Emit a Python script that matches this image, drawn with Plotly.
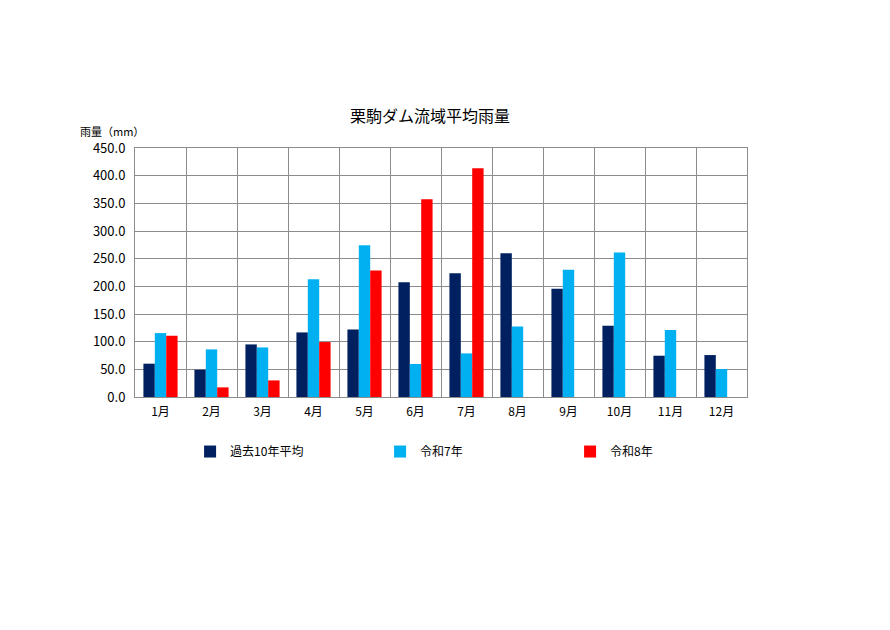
import plotly.graph_objects as go

months = ['1月', '2月', '3月', '4月', '5月', '6月', '7月', '8月', '9月', '10月', '11月', '12月']
avg10 = [60.2, 49.3, 95.0, 116.7, 122.0, 207.6, 223.8, 260.0, 195.5, 128.8, 74.6, 75.8]
r7 = [115.5, 86.0, 89.6, 213.0, 274.4, 59.6, 78.8, 127.6, 229.8, 261.1, 121.0, 50.5]
r8 = [110.7, 17.4, 30.0, 99.3, 228.6, 357.4, 413.4, None, None, None, None, None]

series_names = ['過去10年平均', '令和7年', '令和8年']
colors = ['#002060', '#00B0F0', '#FF0000']

font = 'Noto Sans CJK JP'

fig = go.Figure()
for name, vals, col in zip(series_names, [avg10, r7, r8], colors):
    fig.add_trace(go.Bar(x=months, y=vals, name=name, marker=dict(color=col, line=dict(width=0))))

# the page body adds 8px, so margins are set a bit smaller
fig.update_layout(
    width=890, height=630,
    paper_bgcolor='white', plot_bgcolor='white',
    font=dict(family=font, size=12, color='black'),
    title=dict(text='栗駒ダム流域平均雨量', x=0.482, xanchor='center', xref='paper',
               y=1 - 108 / 630, yanchor='middle', font=dict(size=16, color='black')),
    margin=dict(l=127, r=151, t=140, b=241),
    barmode='group', bargap=0.33, bargroupgap=0,
    showlegend=True,
    legend=dict(orientation='h', x=0.09, xanchor='left', y=-0.219, yanchor='middle',
                entrywidth=145, entrywidthmode='pixels', itemwidth=30,
                font=dict(size=12), traceorder='normal'),
    annotations=[dict(text='雨量（mm）', xref='paper', yref='paper', x=-0.093, y=1.0,
                      xanchor='left', yanchor='bottom', showarrow=False, yshift=7,
                      font=dict(size=11))],
)
fig.update_xaxes(type='category', tickson='boundaries', showgrid=True, gridcolor='#8c8c8c',
                 gridwidth=1, showline=True, linecolor='#8c8c8c', mirror=True,
                 ticks='', tickfont=dict(size=12), ticklabelstandoff=4)
fig.update_yaxes(range=[0, 450], dtick=50, tickformat='.1f', showgrid=True, gridcolor='#8c8c8c',
                 gridwidth=1, showline=True, linecolor='#8c8c8c', mirror=True,
                 ticks='', tickfont=dict(size=13), zeroline=False, ticklabelstandoff=6)

fig.write_html('out.html')
